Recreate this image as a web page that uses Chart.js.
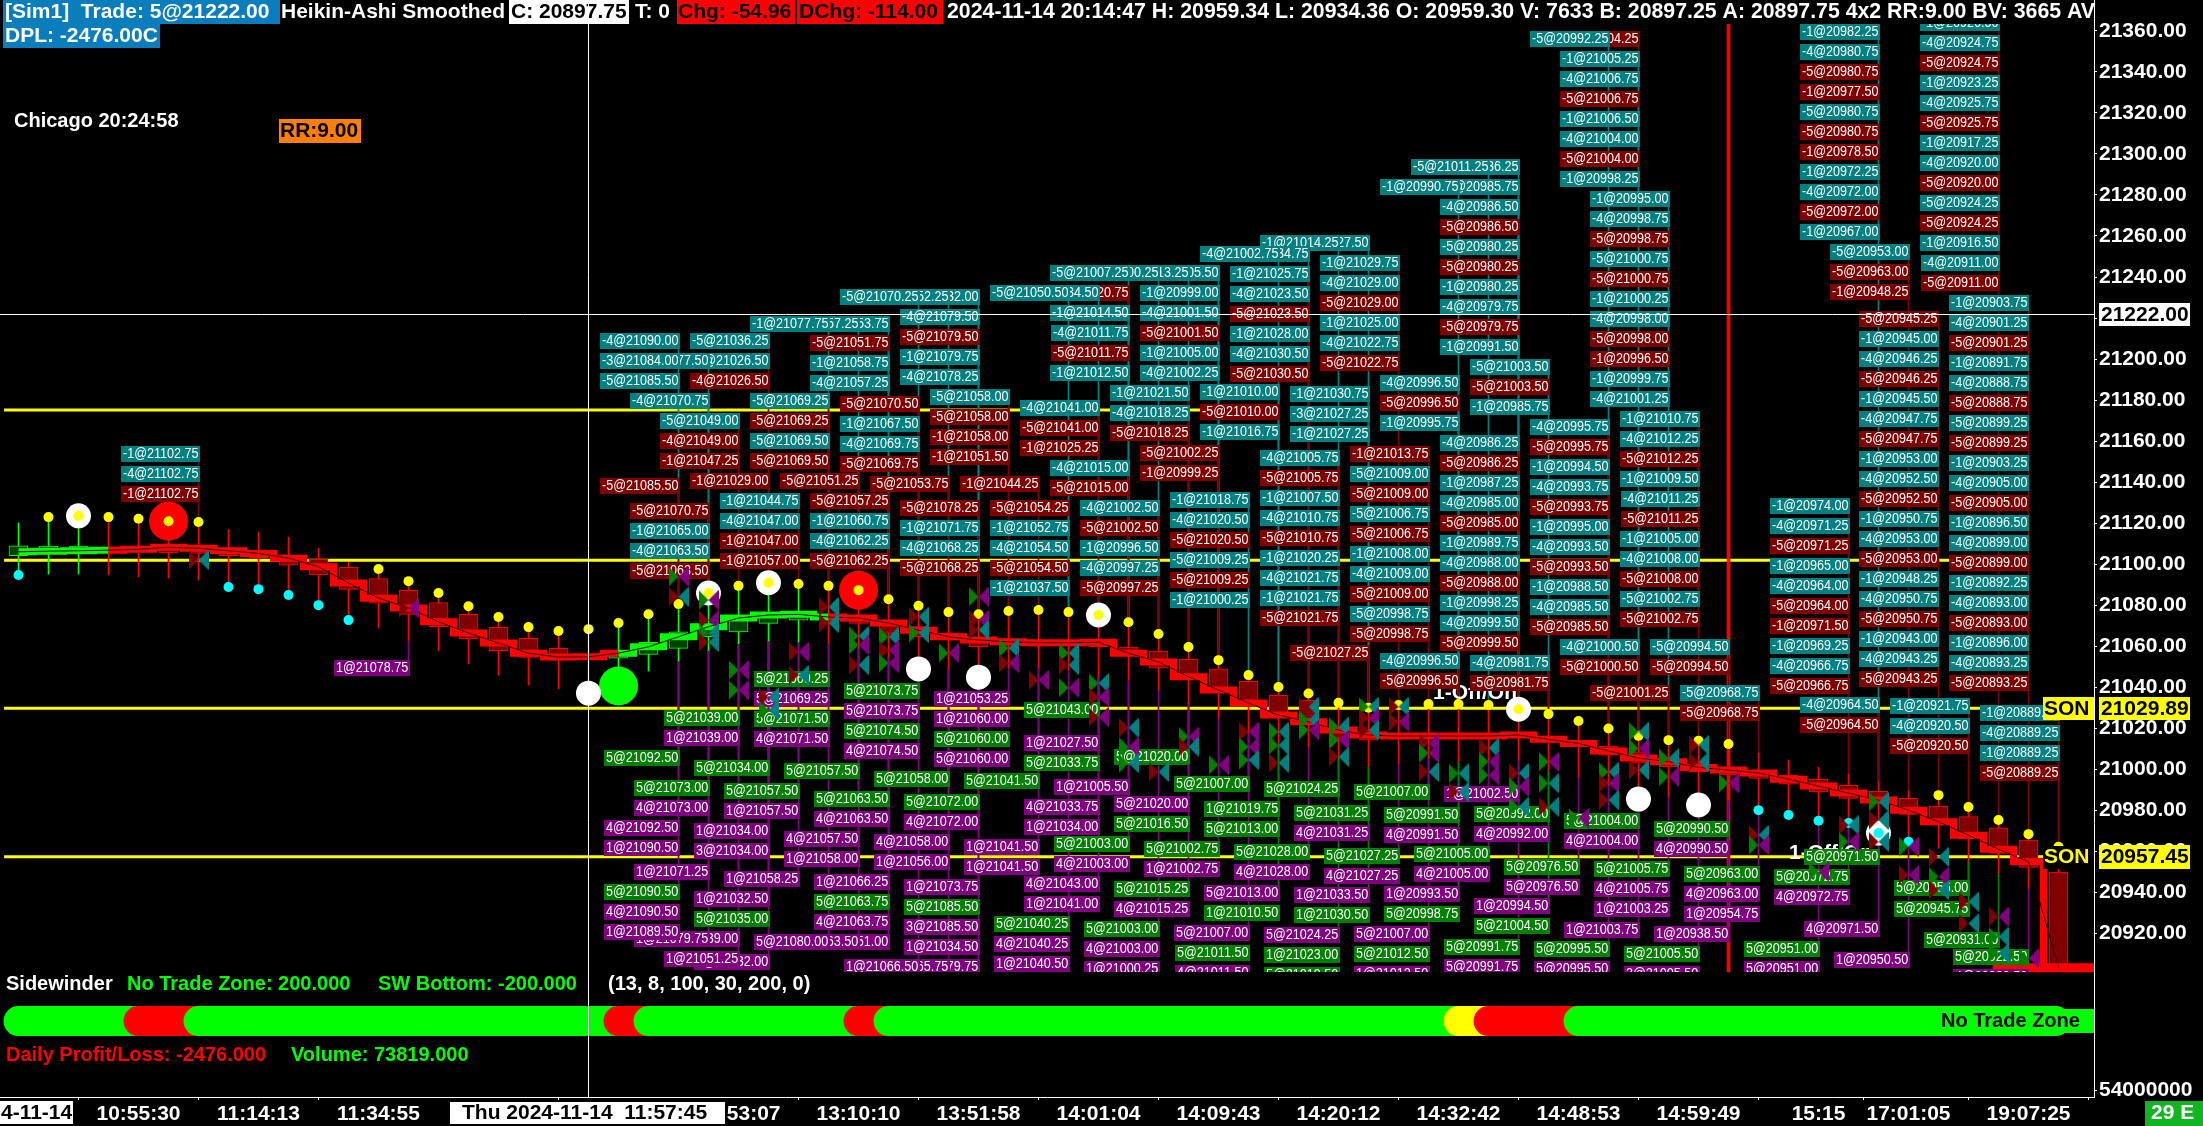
<!DOCTYPE html>
<html>
<head>
<meta charset="utf-8">
<title>Heikin-Ashi Smoothed</title>
<style>
  html, body { margin: 0; padding: 0; background: #000; overflow: hidden; }
  canvas { display: block; }
</style>
<script src="https://cdn.jsdelivr.net/npm/chart.js@4/dist/chart.umd.js"></script>
</head>
<body>
<canvas id="chart" width="2203" height="1126"></canvas>
<script>
// Candles, one value per bar (bar 0 is the first on the left)
const highs = [21120.2,21123,21123.6,21123,21122.2,21121,21120.6,21117,21115.7,21113.3,
  21107.9,21100.9,21097.7,21091.8,21086,21079.6,21074.3,21069.4,21067.5,21068.4,
  21071.4,21075.7,21080.6,21086,21089.5,21091,21090.4,21089.5,21087.4,21083,
  21079.8,21076.7,21075.7,21077.2,21077.7,21076.7,21075.3,21071.8,21066,21059.7,
  21053.3,21046,21040.2,21037,21032.5,21030.1,21031.4,21031.9,21031.9,21031.4,
  21029.4,21027,21023.6,21020,21016.4,21014.3,21014,21012.4,21007.9,21004.6,
  21001,20997.6,20993.8,20989.5,20987.5,20981.7,20975.4,20968.5,20962.3];
const lows = [21094.8,21095.2,21095.2,21094.8,21093.9,21093.4,21092.3,21088.9,21087.9,21085,
  21080.1,21072.8,21069,21063,21057.9,21051.5,21046,21041.1,21039.3,21037.2,
  21040.7,21048,21052.8,21057.9,21061.3,21062.6,21062.1,21061.6,21059.2,21054.8,
  21049,21049,21045,21049.4,21049.9,21048.5,21045,21043.6,21038.7,21032.4,
  21025,21017.7,21011.9,21011.1,21006.2,21001.3,21003.1,21006,21003.8,21004.6,
  21004.6,20999.7,20996.5,20992.4,20985.6,20986.7,20982.7,20985.1,20980.2,20977.8,
  20975,20973.9,20969,20964.8,20961.7,20955.4,20949.5,20942.2,20904.8];
const opens = [21104.2,21105.6,21106.6,21108.5,21108,21108.9,21107.8,21107.3,21106.1,21104,
  21102.4,21098.5,21093.1,21087.3,21081.4,21075.6,21069.3,21063.9,21059,21056.1,
  21054.2,21056.1,21059,21064.7,21067.1,21071.2,21072.8,21075.7,21075.3,21072.8,
  21069.6,21066.6,21064,21063.1,21062.2,21062.2,21062.2,21059.7,21057.7,21053.7,
  21049.1,21043,21036.3,21033.8,21020.2,21019.2,21017.2,21017.2,21016.9,21016.9,
  21017.2,21015.8,21013.9,21011.4,21008.6,21005.6,21003.1,21001.2,20998.9,20997.3,
  20995.2,20992.3,20989.4,20985.9,20982.2,20977,20971.6,20965.6,20950];
const closes = [21109,21108.9,21108.9,21106.6,21106.4,21105.6,21105.3,21104.2,21103.2,21099.6,
  21094.8,21087.8,21081,21075.6,21069.6,21063.6,21057.9,21054.6,21053.3,21054.2,
  21057.4,21062,21067.1,21070.4,21073.7,21076.1,21076.4,21073.2,21071.2,21066.3,
  21064.7,21063.4,21059.7,21060.6,21060.1,21060.1,21059.8,21055.4,21049.4,21043.6,
  21039.5,21032.2,21027.5,21023.1,21015.3,21014.3,21015.3,21015.6,21015.6,21015.6,
  21015.6,21013.5,21011.6,21007,21003.1,21001.3,20998.9,20997.3,20995.7,20992.9,
  20989.1,20985.9,20983.5,20978.1,20972.9,20966.1,20959.1,20952.3,20904.8];
// Smoothed ribbon running through the candles
const smoothed = [21106.1,21106.4,21106.6,21106.9,21107.3,21108.3,21107.8,21106.6,21105.3,21103,
  21098.8,21090.9,21083.5,21078.7,21072,21066.5,21061.6,21056.7,21054.8,21054.9,
  21056.7,21059.8,21064.7,21069.6,21073.8,21075.3,21075.6,21074.3,21073.8,21071.4,
  21067.9,21064.7,21063.1,21062.2,21061.8,21061.8,21062,21056.7,21052.4,21045.2,
  21038.7,21032.4,21026.5,21023.3,21019.2,21016.8,21016.3,21016.3,21016.3,21016.3,
  21016.8,21014.7,21012.7,21009,21005.6,21003.8,21001,20999.7,20998.3,20995.3,
  20991.9,20988.5,20985.1,20980.2,20974.5,20968,20961.1,20955,20903.4];
const smoothedUpBars = [0,1,2,20,21,22,23,24,25,26];

// Dots and circles, given by bar
const cyanDotBars = [0,7,8,9,10,11,58,59,60,61,62,63];
const whiteHighBars = [2,23,25,36,50];
const whiteLowBars = [19,30,32,54,56,62];
const bigRedBars = [5,28];
const bigGreenBars = [20];

// Horizontal levels and the bar each one stops at
const levelPrices = [21175.2,21102,21029.89,20957.45];
const levelEndBars = [41,67,67.5,67.5];

// Fill markers: bar, price, left/right colours
const fills = [
  [6,21102.1,'RT'],[13,21078.7,'RP'],[22,21094,'GP'],[22,21084.2,'RT'],
  [23,21082.6,'GP'],[23,21072.8,'RP'],[23,21066.5,'GT'],[23,21062.1,'RT'],
  [24,21048.5,'GP'],[24,21038.7,'GP'],[25,21035.2,'RT'],[25,21029,'GT'],
  [26,21057.4,'RP'],[26,21046,'RT'],[27,21079.3,'RT'],[27,21071.4,'RT'],
  [28,21065.1,'GT'],[28,21060.7,'GP'],[28,21050.9,'RT'],[29,21064.7,'GT'],
  [29,21058.2,'RP'],[29,21051.9,'GP'],[30,21074.5,'RT'],[30,21066.5,'GT'],
  [31,21056.8,'GP'],[32,21084.2,'GP'],[32,21072.9,'RP'],[32,21068,'RT'],
  [33,21059.2,'GT'],[33,21051.9,'RP'],[34,21043.6,'RP'],[35,21056.8,'GT'],
  [35,21050.9,'RT'],[35,21039.9,'GP'],[36,21042.1,'GT'],[36,21035.3,'RP'],
  [36,21025.6,'RP'],[37,21020.4,'RT'],[37,21011.1,'GP'],[37,21003.1,'GT'],
  [38,20998.9,'RT'],[39,21016,'GP'],[39,21011.1,'RT'],[40,21002.2,'GP'],
  [41,21018.4,'RP'],[41,21011.1,'GP'],[41,21004.6,'GT'],[42,21018.4,'GT'],
  [42,21011.9,'GT'],[42,21003.2,'RT'],[43,21030.6,'RT'],[43,21024.1,'GT'],
  [43,21019.2,'GP'],[44,21020.9,'GT'],[44,21014.4,'GP'],[44,21006.2,'RT'],
  [45,21030.6,'GT'],[45,21025.1,'RP'],[45,21019.2,'RT'],[46,21030.6,'RT'],
  [46,21023.3,'RP'],[47,21012.8,'RP'],[47,21008,'GP'],[47,20998.9,'RT'],
  [48,20998.1,'GT'],[48,20989.2,'RT'],[49,21010.5,'RT'],[49,21003.8,'GP'],
  [49,20997.3,'GP'],[50,20998.3,'RT'],[50,20991.6,'GP'],[50,20981.9,'GT'],
  [51,21003.8,'GP'],[51,20993.3,'GT'],[51,20981.9,'RT'],[52,20976.4,'GP'],
  [53,20998.9,'GT'],[53,20993.3,'RP'],[53,20985.1,'RT'],[54,21018.4,'GT'],
  [54,21010.3,'GP'],[54,20999.8,'RT'],[55,21005.5,'GT'],[55,20996.5,'GP'],
  [56,21011.9,'RT'],[56,21003.8,'RT'],[57,20993.3,'GP'],[58,20968.1,'RT'],
  [58,20963.2,'GP'],[60,20950.2,'GP'],[61,20972.9,'RT'],[61,20964.8,'GP'],
  [62,20984.3,'GT'],[62,20975.4,'RT'],[62,20964.8,'RT'],[63,20962.4,'GP'],
  [63,20948.6,'RP'],[64,20957.5,'RT'],[64,20947.8,'GP'],[64,20941.3,'RT'],
  [65,20935.6,'RT'],[65,20925,'RT'],[66,20928.3,'RP'],[66,20918.5,'GT'],
  [66,20910.6,'GT'],[67,20908,'GP']
];

// Sell labels above the bars: bar, price of the first row, rows ('*' = closing fill)
const sellStacks = [
  [6,21153.8,['-1@21102.75','-4@21102.75','*-1@21102.75']],
  [22,21208.8,['-4@21090.00','-3@21084.00','-5@21085.50']],
  [22,21138.2,['*-5@21085.50']],
  [23,21199,['-1@21077.50']],
  [23,21179.6,['-4@21070.75']],
  [23,21126,['*-5@21070.75','-1@21065.00','-4@21063.50','*-5@21063.50']],
  [24,21169.8,['-5@21049.00','*-4@21049.00','*-1@21047.25']],
  [25,21208.8,['-5@21036.25','-1@21026.50','*-4@21026.50']],
  [25,21140.6,['*-1@21029.00']],
  [26,21130.8,['-1@21044.75','-4@21047.00','*-1@21047.00','*-1@21057.00']],
  [27,21217,['-1@21077.75']],
  [27,21179.6,['-5@21069.25','*-5@21069.25','-5@21069.50','*-5@21069.50']],
  [28,21217,['-4@21057.25']],
  [28,21140.6,['*-5@21051.25']],
  [29,21217,['-5@21053.75']],
  [29,21207.7,['*-5@21051.75','-1@21058.75','-4@21057.25']],
  [29,21130.8,['*-5@21057.25','-1@21060.75','-4@21062.25','*-5@21062.25']],
  [30,21230.1,['-5@21070.25']],
  [30,21178,['*-5@21070.50','-1@21067.50','-4@21069.75','*-5@21069.75']],
  [31,21230.1,['-4@21052.25']],
  [31,21139,['*-5@21053.75']],
  [32,21230.1,['-1@21032.00']],
  [32,21220.4,['-4@21079.50','*-5@21079.50','-1@21079.75','-4@21078.25']],
  [32,21127.3,['*-5@21078.25','-1@21071.75','-4@21068.25','*-5@21068.25']],
  [33,21181.5,['-5@21058.00','*-5@21058.00','*-1@21058.00','*-1@21051.50']],
  [34,21139,['*-1@21044.25']],
  [35,21232.1,['-5@21050.50']],
  [35,21127.3,['*-5@21054.25','-1@21052.75','-4@21054.50','*-5@21054.50','-1@21037.50']],
  [36,21232.1,['-4@21034.50']],
  [36,21176,['-4@21041.00','*-5@21041.00','*-1@21025.25']],
  [37,21241.8,['-5@21007.25']],
  [37,21232.1,['*-5@21020.75']],
  [37,21222.3,['-1@21014.50','-4@21011.75','*-5@21011.75','-1@21012.50']],
  [37,21146.8,['-4@21015.00','*-5@21015.00']],
  [38,21241.8,['-1@21000.25']],
  [38,21127.3,['-4@21002.50','*-5@21002.50','-1@20996.50','-4@20997.25','*-5@20997.25']],
  [39,21241.8,['-4@21013.25']],
  [39,21183.3,['-1@21021.50','-4@21018.25','*-5@21018.25']],
  [40,21241.8,['-5@21005.50']],
  [40,21232.1,['-1@20999.00','-4@21001.50','*-5@21001.50','-1@21005.00','-4@21002.25']],
  [40,21154.1,['*-5@21002.25','*-1@20999.25']],
  [41,21131.3,['-1@21018.75','-4@21020.50','*-5@21020.50','-5@21009.25','*-5@21009.25','-1@21000.25']],
  [42,21251,['-4@21002.75']],
  [42,21183.8,['-1@21010.00','*-5@21010.00','-1@21016.75']],
  [43,21251,['-1@21034.75']],
  [43,21241.3,['-1@21025.75','-4@21023.50','*-5@21023.50','-1@21028.00','-4@21030.50','*-5@21030.50']],
  [44,21256.4,['-1@21014.25']],
  [44,21151.7,['-4@21005.75','*-5@21005.75','-1@21007.50','-4@21010.75','*-5@21010.75','-1@21020.25','-4@21021.75','-1@21021.75','*-5@21021.75']],
  [45,21256.4,['-4@21027.50']],
  [45,21182.8,['-1@21030.75','-3@21027.25','-1@21027.25']],
  [45,21056.6,['*-5@21027.25']],
  [46,21246.7,['-1@21029.75','-4@21029.00','*-5@21029.00','-1@21025.00','-4@21022.75','*-5@21022.75']],
  [47,21153.8,['*-1@21013.75','-5@21009.00','*-5@21009.00','-5@21006.75','*-5@21006.75','-1@21008.00','-4@21009.00','*-5@21009.00','-5@20998.75','*-5@20998.75']],
  [48,21283.7,['-1@20990.75']],
  [48,21188.2,['-4@20996.50','*-5@20996.50','-1@20995.75']],
  [48,21052.9,['-4@20996.50','*-5@20996.50']],
  [49,21293.5,['-5@21011.25']],
  [50,21293.5,['-4@21036.25']],
  [50,21283.7,['-1@20985.75']],
  [50,21274,['-4@20986.50','*-5@20986.50','-5@20980.25','*-5@20980.25','-1@20980.25','-4@20979.75','*-5@20979.75','-1@20991.50']],
  [50,21159,['-4@20986.25','*-5@20986.25','-1@20987.25','-4@20985.00','*-5@20985.00','-1@20989.75','-4@20988.00','*-5@20988.00','-1@20998.25','-4@20999.50','*-5@20999.50']],
  [51,21196,['-5@21003.50','*-5@21003.50','-1@20985.75']],
  [51,21051.7,['-4@20981.75','*-5@20981.75']],
  [53,21356,['-5@20992.25']],
  [53,21167,['-4@20995.75','*-5@20995.75','-1@20994.50','-4@20993.75','*-5@20993.75','-1@20995.00','-4@20993.50','*-5@20993.50','-1@20988.50','-4@20985.50','*-5@20985.50']],
  [54,21356,['*-5@21004.25']],
  [54,21346.2,['-1@21005.25','-4@21006.75','*-5@21006.75','-1@21006.50','-4@21004.00','*-5@21004.00','-1@20998.25']],
  [54,21059.6,['-4@21000.50','*-5@21000.50']],
  [55,21278,['-1@20995.00','-4@20998.75','*-5@20998.75','-5@21000.75','*-5@21000.75','-1@21000.25','-4@20998.00','*-5@20998.00','*-1@20996.50','-1@20999.75','-4@21001.25']],
  [55,21037.4,['*-5@21001.25']],
  [56,21170.8,['-1@21010.75','-4@21012.25','*-5@21012.25','-1@21009.50','-4@21011.25','*-5@21011.25','-1@21005.00','-4@21008.00','*-5@21008.00','-5@21002.75','*-5@21002.75']],
  [57,21059.8,['-5@20994.50','*-5@20994.50']],
  [58,21037.1,['-5@20968.75','*-5@20968.75']],
  [61,21128.6,['-1@20974.00','-4@20971.25','*-5@20971.25','-1@20965.00','-4@20964.00','*-5@20964.00','*-1@20971.50','-1@20969.25','-4@20966.75','*-5@20966.75']],
  [62,21359.3,['-1@20982.25','-4@20980.75','*-5@20980.75','*-1@20977.50','-5@20980.75','*-5@20980.75','*-1@20978.50','-1@20972.25','-4@20972.00','*-5@20972.00','-1@20967.00']],
  [62,21031.4,['-4@20964.50','*-5@20964.50']],
  [63,21252,['-5@20953.00','*-5@20963.00','*-1@20948.25']],
  [64,21219.4,['*-5@20945.25','-1@20945.00','-4@20946.25','*-5@20946.25','-1@20945.50','-4@20947.75','*-5@20947.75','-1@20953.00','-4@20952.50','*-5@20952.50','-1@20950.75','-4@20953.00','*-5@20953.00','-1@20948.25','-4@20950.75','*-5@20950.75','-1@20943.00','-4@20943.25','*-5@20943.25']],
  [65,21030.8,['-1@20921.75','-4@20920.50','*-5@20920.50']],
  [66,21363.6,['-1@20926.50','-4@20924.75','*-5@20924.75','-1@20923.25','-4@20925.75','*-5@20925.75','-1@20917.25','-4@20920.00','*-5@20920.00','-5@20924.25','*-5@20924.25','-1@20916.50','-4@20911.00','*-5@20911.00']],
  [67,21227.2,['-1@20903.75','-4@20901.25','*-5@20901.25','-1@20891.75','-4@20888.75','*-5@20888.75','-5@20899.25','*-5@20899.25','-1@20903.25','-4@20905.00','*-5@20905.00','-1@20896.50','-4@20899.00','*-5@20899.00','-1@20892.25','-4@20893.00','*-5@20893.00','-1@20896.00','-4@20893.25','*-5@20893.25']],
  [68,21027.4,['-1@20889.75','-4@20889.25','-1@20889.25','*-5@20889.25']]
];

// Buy labels below the bars, same layout ('*' = closing fill)
const buyStacks = [
  [13,21049.5,['*1@21078.75']],
  [22,21005.5,['5@21092.50']],
  [22,20971.3,['*4@21092.50','*1@21090.50']],
  [22,20940.4,['5@21090.50','*4@21090.50','*1@21089.50']],
  [23,20990.8,['5@21073.00','*4@21073.00']],
  [23,20950,['*1@21071.25']],
  [23,20917.2,['*1@21079.75']],
  [24,21025,['5@21039.00','*1@21039.00']],
  [24,20917.2,['*1@21039.00']],
  [24,20907.5,['*1@21051.25']],
  [25,21000.6,['5@21034.00']],
  [25,20970,['*1@21034.00','*3@21034.00']],
  [25,20936.8,['*1@21032.50','5@21035.00']],
  [25,20906.3,['*1@21032.00']],
  [26,20989.5,['5@21057.50','*1@21057.50']],
  [26,20946.5,['*1@21058.25']],
  [27,21044,['5@21069.25','*5@21069.25','5@21071.50','*4@21071.50']],
  [27,20915.8,['*5@21080.00']],
  [28,20999.3,['5@21057.50']],
  [28,20966,['*4@21057.50','*1@21058.00']],
  [28,20915.8,['*1@21063.50']],
  [29,20985.5,['5@21063.50','*4@21063.50']],
  [29,20945,['*1@21066.25','5@21063.75','*4@21063.75']],
  [29,20915.8,['*1@21051.00']],
  [30,21038.3,['5@21073.75','*5@21073.75','5@21074.50','*4@21074.50']],
  [30,20903.6,['*1@21066.50']],
  [31,20995.2,['5@21058.00']],
  [31,20964.5,['*4@21058.00','*1@21056.00']],
  [31,20903.6,['*1@21065.75']],
  [32,20984,['5@21072.00','*4@21072.00']],
  [32,20942.6,['*1@21073.75','5@21085.50','*3@21085.50','*1@21034.50']],
  [32,20903.6,['*1@21079.75']],
  [33,21034.2,['*1@21053.25','*1@21060.00','5@21060.00','*5@21060.00']],
  [34,20994.2,['5@21041.50']],
  [34,20962,['*1@21041.50','*1@21041.50']],
  [35,20924.6,['5@21040.25','*4@21040.25','*1@21040.50']],
  [36,21029,['5@21043.00']],
  [36,21013,['*1@21027.50','5@21033.75']],
  [36,20981.6,['*4@21033.75','*1@21034.00']],
  [36,20944,['*4@21043.00','*1@21041.00']],
  [37,20991.6,['*1@21005.50']],
  [37,20963.7,['5@21003.00','*4@21003.00']],
  [38,20922.3,['5@21003.00','*4@21003.00','*1@21000.25']],
  [39,21006,['5@21020.00']],
  [39,20983,['*5@21020.00','5@21016.50']],
  [39,20941.6,['5@21015.25','*4@21015.25']],
  [40,20961.1,['5@21002.75','*1@21002.75']],
  [41,20992.8,['5@21007.00']],
  [41,20920.5,['*5@21007.00','5@21011.50','*4@21011.50']],
  [42,20980.6,['1@21019.75','5@21013.00']],
  [42,20940,['*5@21013.00','1@21010.50']],
  [43,20959.6,['5@21028.00','*4@21028.00']],
  [44,20990.4,['5@21024.25']],
  [44,20919.3,['*5@21024.25','1@21023.00','5@21019.50']],
  [45,20979,['5@21031.25','*4@21031.25']],
  [45,20938.7,['*1@21033.50','1@21030.50']],
  [46,20957.8,['5@21027.25','*4@21027.25']],
  [47,20988.9,['5@21007.00']],
  [47,20919.7,['*5@21007.00','5@21012.50','*1@21012.50']],
  [48,20977.8,['5@20991.50','*4@20991.50']],
  [48,20939.2,['*1@20993.50','5@20998.75']],
  [49,20958.7,['5@21005.00','*4@21005.00']],
  [50,20988.1,['*1@21002.50']],
  [50,20913.6,['5@20991.75','*5@20991.75']],
  [51,20978.2,['5@20992.00','*4@20992.00']],
  [51,20933.3,['*1@20994.50','5@21004.50']],
  [52,20952.6,['5@20976.50','*5@20976.50']],
  [53,20912.4,['5@20995.50','*5@20995.50']],
  [54,20974.8,['5@21004.00','*4@21004.00']],
  [54,20922,['*1@21003.75']],
  [55,20951.4,['5@21005.75','*4@21005.75','*1@21003.25']],
  [56,20910,['5@21005.50','*3@21005.50']],
  [57,20970.9,['5@20990.50','*4@20990.50']],
  [57,20919.7,['*1@20938.50']],
  [58,20948.9,['5@20963.00','*4@20963.00','*1@20954.75']],
  [60,20912.4,['5@20951.00','*5@20951.00']],
  [61,20947.5,['5@20972.75','*4@20972.75']],
  [62,20957.2,['5@20971.50']],
  [62,20922.3,['*4@20971.50']],
  [63,20907,['*1@20950.50']],
  [65,20942.1,['5@20956.00']],
  [65,20931.9,['5@20945.75']],
  [66,20916.9,['5@20931.00']],
  [67,20908.5,['5@20922.50','*4@20922.50']]
];

// Sidewinder strip: start bar, end bar, state
const ribbonSegments = [[0,4,'go'],[4,6,'stop'],[6,20,'go'],[20,21,'stop'],[21,28,'go'],
  [28,29,'stop'],[29,48,'go'],[48,49,'warn'],[49,52,'stop'],[52,67.9,'go']];
const ribbonPrice = 20877.4;

// Axes (bars 16 and 20 sit under the crosshair date box, so no time is readable there)
const tickBars = [4,8,12,24,28,32,36,40,44,48,52,56,60,63,67];
const tickTimes = ['10:55:30','11:14:13','11:34:55','12:53:07','13:10:10','13:51:58',
  '14:01:04','14:09:43','14:20:12','14:32:42','14:48:53','14:59:49','15:15','17:01:05','19:07:25'];
const priceTicks = [21360,21340,21320,21300,21280,21260,21240,21220,21200,21180,21160,21140,21120,21100,21080,
  21060,21040,21020,21000,20980,20960,20940,20920];
const volumeTickPrice = 20843.8;
const volumeTickLabel = '54000000';

const crossBar = 19, crossPrice = 21222;
const signalBar = 57;

const FONT = '"Liberation Sans", Arial, sans-serif';
const TEAL = '#008080', DARKRED = '#800000', GREEN = '#008000', PURPLE = '#800080';
const PANEL_BOTTOM = 972;
const RIBBON = { go: '#00ff00', stop: '#ff0000', warn: '#ffff00' };

// One marker: left triangle and right triangle pointing at each other
const bowties = {};
function makeBowtie(left, right) {
  const c = document.createElement('canvas');
  c.width = 20; c.height = 20;
  const g = c.getContext('2d');
  g.fillStyle = left;
  g.beginPath(); g.moveTo(0, 0); g.lineTo(10, 10); g.lineTo(0, 20); g.fill();
  g.fillStyle = right;
  g.beginPath(); g.moveTo(20, 0); g.lineTo(10, 10); g.lineTo(20, 20); g.fill();
  return c;
}
bowties.GP = makeBowtie(GREEN, PURPLE);
bowties.RT = makeBowtie(DARKRED, TEAL);
bowties.GT = makeBowtie(GREEN, TEAL);
bowties.RP = makeBowtie(DARKRED, PURPLE);

const barIdx = highs.map((_, i) => i);
const isUp = i => closes[i] > opens[i];
const dots = (bars, values) => bars.map(b => ({ x: b, y: values[b] }));
const stackColor = (row, plain, closing) => row[0] === '*' ? closing : plain;

function scatter(label, data, radius, color) {
  return { type: 'scatter', label, data, pointRadius: radius, pointBackgroundColor: color,
    pointBorderWidth: 0, pointHoverRadius: radius, showLine: false };
}

const yellowBars = barIdx.filter(i => !cyanDotBars.includes(i));

const datasets = [
  // levels
  ...levelPrices.map((p, i) => ({ type: 'line', label: 'level', borderColor: '#ffff00', borderWidth: 3, pointRadius: 0,
    data: [{ x: -0.48, y: p }, { x: levelEndBars[i], y: p }] })),
  // red signal line
  { type: 'bar', label: 'signal', backgroundColor: '#ff0000', barThickness: 3,
    data: [{ x: signalBar, y: [20901.3, 21375] }] },
  // leader lines from the label stacks to the bars
  { type: 'bar', label: 'leadersSell', barThickness: 1,
    backgroundColor: sellStacks.map(s => stackColor(s[2][s[2].length - 1], TEAL, DARKRED)),
    data: sellStacks.map(s => ({ x: s[0], y: [highs[s[0]], s[1]] })) },
  { type: 'bar', label: 'leadersBuy', barThickness: 1,
    backgroundColor: buyStacks.map(s => stackColor(s[2][s[2].length - 1], GREEN, PURPLE)),
    data: buyStacks.map(s => ({ x: s[0], y: [s[1], lows[s[0]]] })) },
  // candles
  { type: 'bar', label: 'wicks', barThickness: 1,
    backgroundColor: barIdx.map(i => isUp(i) ? '#00ff00' : '#ff0000'),
    data: barIdx.map(i => ({ x: i, y: [lows[i], highs[i]] })) },
  { type: 'bar', label: 'bodies', barThickness: 19, borderWidth: 1, borderSkipped: false,
    backgroundColor: barIdx.map(i => isUp(i) ? '#004000' : '#800000'),
    borderColor: barIdx.map(i => isUp(i) ? '#00ff00' : '#ff0000'),
    data: barIdx.map(i => ({ x: i, y: [opens[i], closes[i]] })) },
  // smoothed ribbon
  { type: 'line', label: 'smoothed', stepped: 'middle', borderWidth: 7, pointRadius: 0, borderColor: '#ff0000',
    segment: { borderColor: c => smoothedUpBars.includes(c.p0DataIndex) ? '#00ff00' : '#ff0000' },
    data: barIdx.map(i => ({ x: i, y: smoothed[i] })) },
  { type: 'line', label: 'smoothedFloor', borderWidth: 9, pointRadius: 0, borderColor: '#ff0000',
    data: [{ x: 65.8, y: 20903.4 }, { x: 69.2, y: 20903.4 }] },
  { type: 'line', label: 'smoothedThin', borderWidth: 1, pointRadius: 0, borderColor: '#300000',
    data: barIdx.map(i => ({ x: i, y: smoothed[i] })) },
  // dots and circles
  scatter('bigRed', dots(bigRedBars, highs), 19.5, '#ff0000'),
  scatter('bigGreen', dots(bigGreenBars, lows), 19.5, '#00ff00'),
  scatter('whiteHigh', dots(whiteHighBars, highs), 12.5, '#ffffff'),
  scatter('whiteLow', dots(whiteLowBars, lows), 12.5, '#ffffff'),
  scatter('yellow', dots(yellowBars, highs), 5, '#ffff00'),
  scatter('cyan', dots(cyanDotBars, lows), 5, '#00ffff'),
  // fill markers, the trade labels go right under them
  { type: 'scatter', label: 'fills', showLine: false, pointRadius: 10, pointBorderWidth: 0,
    pointStyle: c => bowties[fills[c.dataIndex][2]],
    data: fills.map(f => ({ x: f[0], y: f[1] })) },
  // Sidewinder strip
  ...ribbonSegments.map(s => ({ type: 'line', label: 'ribbon', borderColor: RIBBON[s[2]], borderWidth: 30,
    borderCapStyle: 'round', pointRadius: 0,
    data: [{ x: s[0], y: ribbonPrice }, { x: s[1], y: ribbonPrice }] })),
  { type: 'line', label: 'ribbonEnd', borderColor: '#00ff00', borderWidth: 24, pointRadius: 0,
    data: [{ x: 67, y: ribbonPrice }, { x: 69.2, y: ribbonPrice }] }
];
// array order is drawing order
datasets.forEach((d, i) => { d.order = datasets.length - i; });

function text(ctx, str, x, y, color, font) {
  ctx.font = font || 'bold 21px ' + FONT;
  ctx.textAlign = 'left';
  ctx.textBaseline = 'middle';
  ctx.fillStyle = color;
  ctx.fillText(str, x, y);
}

function box(ctx, x0, y0, x1, y1, color) {
  ctx.fillStyle = color;
  ctx.fillRect(x0, y0, x1 - x0, y1 - y0);
}

// the platform font is a little narrower and taller than Liberation
const LABEL_SQUEEZE = 0.9;
function drawStacks(ctx, chart, stacks, plain, closing) {
  const xs = chart.scales.x, ys = chart.scales.y;
  for (const s of stacks) {
    const right = Math.round(xs.getPixelForValue(s[0])) + 1;
    let yc = Math.round(ys.getPixelForValue(s[1]));
    for (const row of s[2]) {
      const closed = row[0] === '*';
      const str = closed ? row.slice(1) : row;
      const w = Math.ceil(ctx.measureText(str).width * LABEL_SQUEEZE) + 3;
      ctx.fillStyle = closed ? closing : plain;
      ctx.fillRect(right - w, yc - 8, w, 16);
      ctx.fillStyle = '#ffffff';
      ctx.save();
      ctx.translate(right - w + 2, yc + 0.5);
      ctx.scale(LABEL_SQUEEZE, 1);
      ctx.fillText(str, 0, 0);
      ctx.restore();
      yc += 20;
    }
  }
}

const overlay = {
  id: 'overlay',
  beforeDatasetDraw(chart, args) {
    if (chart.data.datasets[args.index].label !== 'fills') return;
    const ctx = chart.ctx;
    ctx.save();
    ctx.beginPath();
    ctx.rect(0, 0, 2094, PANEL_BOTTOM);
    ctx.clip();
    text(ctx, '1-Off/On', 1433, 693, '#ffffff');
    text(ctx, '1-Off/On', 1789, 853, '#ffffff');
    ctx.font = '14px ' + FONT;
    ctx.textAlign = 'left';
    ctx.textBaseline = 'middle';
    // left stacks come out on top
    const bySide = (a, b) => b[0] - a[0];
    drawStacks(ctx, chart, [...buyStacks].sort(bySide), GREEN, PURPLE);
    drawStacks(ctx, chart, [...sellStacks].sort(bySide), TEAL, DARKRED);
    ctx.restore();
  },
  afterDatasetsDraw(chart) {
    const ctx = chart.ctx;
    const xs = chart.scales.x, ys = chart.scales.y;
    ctx.save();
    // header strip
    box(ctx, 0, 0, 2094, 24, '#000000');
    ctx.save();
    ctx.beginPath();
    ctx.rect(0, 0, 2094, 50);
    ctx.clip();
    box(ctx, 3, 0, 280, 24, '#0a7dbd');
    text(ctx, '[Sim1]  Trade: 5@21222.00', 5, 12, '#ffffff');
    text(ctx, 'Heikin-Ashi Smoothed', 281, 12, '#ffffff');
    box(ctx, 509, 0, 629, 24, '#ffffff');
    text(ctx, 'C: 20897.75', 511, 12, '#000000');
    text(ctx, 'T: 0', 635, 12, '#ffffff');
    box(ctx, 677, 0, 795, 24, '#ff0000');
    text(ctx, 'Chg: -54.96', 678, 12, '#000000');
    box(ctx, 797, 0, 943, 24, '#ff0000');
    text(ctx, 'DChg: -114.00', 799, 12, '#000000');
    text(ctx, '2024-11-14 20:14:47 H: 20959.34 L: 20934.36 O: 20959.30 V: 7633 B: 20897.25 A: 20897.75 4x2 RR:9.00 BV: 3665 AV', 947, 12, '#ffffff', 'bold 21.3px ' + FONT);
    box(ctx, 3, 24, 160, 48, '#0a7dbd');
    text(ctx, 'DPL: -2476.00C', 5, 36, '#ffffff');
    ctx.restore();
    text(ctx, 'Chicago 20:24:58', 14, 121, '#ffffff', 'bold 20px ' + FONT);
    box(ctx, 279, 119, 361, 143, '#ff8000');
    text(ctx, 'RR:9.00', 280, 131, '#000000');

    // Sidewinder texts
    text(ctx, 'Sidewinder', 6, 984, '#ffffff', 'bold 20px ' + FONT);
    text(ctx, 'No Trade Zone: 200.000', 127, 984, '#00ff00', 'bold 20px ' + FONT);
    text(ctx, 'SW Bottom: -200.000', 378, 984, '#00ff00', 'bold 20px ' + FONT);
    text(ctx, '(13, 8, 100, 30, 200, 0)', 608, 984, '#ffffff', 'bold 20px ' + FONT);
    text(ctx, 'No Trade Zone', 1941, 1021, '#000000', 'bold 20px ' + FONT);
    text(ctx, 'Daily Profit/Loss: -2476.000', 6, 1055, '#ff0000', 'bold 20px ' + FONT);
    text(ctx, 'Volume: 73819.000', 291, 1055, '#00ff00', 'bold 20px ' + FONT);

    // crosshair
    const cx = xs.getPixelForValue(crossBar), cy = Math.round(ys.getPixelForValue(crossPrice)) + 0.5;
    ctx.strokeStyle = '#ffffff';
    ctx.lineWidth = 1;
    ctx.beginPath();
    ctx.moveTo(cx, 0); ctx.lineTo(cx, 1097);
    ctx.moveTo(0, cy); ctx.lineTo(2094, cy);
    ctx.stroke();

    // SON tags and last-price boxes
    box(ctx, 2043, 697, 2094, 720, '#ffff00');
    text(ctx, 'SON', 2044, 709, '#000000');
    box(ctx, 2043, 846, 2094, 869, '#000000');
    text(ctx, 'SON', 2044, 857, '#ffff00');
    box(ctx, 2099, 303, 2190, 326, '#ffffff');
    text(ctx, '21222.00', 2101, 315, '#000000');
    box(ctx, 2099, 697, 2190, 720, '#ffff00');
    text(ctx, '21029.89', 2101, 709, '#000000');
    box(ctx, 2099, 845, 2190, 869, '#ffff00');
    text(ctx, '20957.45', 2101, 857, '#000000');

    // date boxes on the time axis
    box(ctx, 0, 1101, 73, 1124, '#ffffff');
    text(ctx, '4-11-14', 1, 1113, '#000000');
    box(ctx, 450, 1102, 725, 1124, '#ffffff');
    text(ctx, 'Thu 2024-11-14  11:57:45', 462, 1113, '#000000');
    box(ctx, 2145, 1101, 2203, 1126, '#10b521');
    text(ctx, '29 E', 2151, 1113, '#ffffff');
    ctx.restore();
  }
};

// keep the plot area flush with the canvas edge, no room for half tick labels
function noEdgePadding(s) {
  s.paddingLeft = 0; s.paddingRight = 0; s.paddingTop = 0; s.paddingBottom = 0;
}

new Chart(document.getElementById('chart').getContext('2d'), {
  type: 'bar',
  data: { datasets },
  plugins: [overlay],
  options: {
    responsive: false,
    animation: false,
    events: [],
    layout: { padding: 0, autoPadding: false },
    datasets: { bar: { grouped: false } },
    plugins: { legend: { display: false }, tooltip: { enabled: false } },
    scales: {
      x: {
        type: 'linear',
        offset: false,
        min: -18.5 / 30,
        max: (2094 - 18.5) / 30,
        afterBuildTicks: s => { s.ticks = tickBars.map(v => ({ value: v })); },
        afterFit: s => { s.height = 29; noEdgePadding(s); },
        border: { color: '#ffffff' },
        grid: { drawOnChartArea: false, color: '#ffffff', tickLength: 3 },
        ticks: {
          autoSkip: false, maxRotation: 0, minRotation: 0, padding: 2, color: '#ffffff',
          font: { family: FONT, size: 21, weight: 'bold' },
          callback: v => tickTimes[tickBars.indexOf(v)]
        }
      },
      y: {
        position: 'right',
        min: 21375 - 1097 / 2.052,
        max: 21375,
        afterBuildTicks: s => { s.ticks = [...priceTicks, volumeTickPrice].map(v => ({ value: v })); },
        afterFit: s => { s.width = 109; noEdgePadding(s); },
        border: { color: '#ffffff' },
        grid: { drawOnChartArea: false, color: '#ffffff', tickLength: 3 },
        ticks: {
          autoSkip: false, crossAlign: 'near', padding: 2, color: '#ffffff',
          font: { family: FONT, size: 21, weight: 'bold' },
          callback: v => v === volumeTickPrice ? volumeTickLabel : v.toFixed(2)
        }
      }
    }
  }
});
</script>
</body>
</html>
